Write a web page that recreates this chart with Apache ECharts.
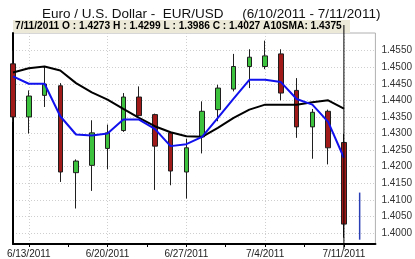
<!DOCTYPE html>
<html><head><meta charset="utf-8">
<script src="https://cdn.jsdelivr.net/npm/echarts@6/dist/echarts.min.js"></script>
<style>html,body{margin:0;padding:0;background:#fff}#c{width:415px;height:259px}</style>
</head><body><div id="c"></div>
<script>
const categories = ['6/10/2011','6/13/2011','6/14/2011','6/15/2011','6/16/2011','6/17/2011',
  '6/20/2011','6/21/2011','6/22/2011','6/23/2011','6/24/2011',
  '6/27/2011','6/28/2011','6/29/2011','6/30/2011','7/1/2011',
  '7/4/2011','7/5/2011','7/6/2011','7/7/2011','7/8/2011',
  '7/11/2011','7/12/2011','7/13/2011'];
const openV  = [1.4510,1.4350,1.4415,1.4444,1.4182,1.4204,1.4255,1.4309,1.4410,1.4357,1.4302,1.4184,1.4290,1.4372,1.4434,1.4502,1.4502,1.4540,1.4430,1.4320,1.4367,1.4273];
const closeV = [1.4350,1.4413,1.4449,1.4184,1.4217,1.4302,1.4302,1.4410,1.4354,1.4262,1.4187,1.4257,1.4367,1.4437,1.4502,1.4530,1.4534,1.4422,1.4320,1.4364,1.4257,1.4027];
const lowV   = [1.4335,1.4300,1.4380,1.4154,1.4074,1.4127,1.4192,1.4305,1.4352,1.4130,1.4144,1.4104,1.4240,1.4337,1.4427,1.4437,1.4494,1.4400,1.4287,1.4224,1.4207,1.3986];
const highV  = [1.4550,1.4430,1.4502,1.4452,1.4222,1.4340,1.4327,1.4422,1.4442,1.4360,1.4305,1.4284,1.4397,1.4447,1.4540,1.4554,1.4580,1.4554,1.4467,1.4374,1.4372,1.4299];
const fastLine = [1.4472,1.4450,1.4450,1.4352,1.4297,1.4294,1.4300,1.4342,1.4342,1.4314,1.4262,1.4268,1.4290,1.4347,1.4405,1.4462,1.4462,1.4455,1.4404,1.4387,1.4335,1.4227];
const sma10 = [1.4484,1.4497,1.4502,1.4490,1.4452,1.4424,1.4402,1.4374,1.4347,1.4322,1.4304,1.4292,1.4290,1.4317,1.4347,1.4372,1.4387,1.4387,1.4387,1.4394,1.4400,1.4375];
const projection = [[22, 1.3980, 1.4122]];
const cursorIndex = 21;
const yTicks = [1.4000,1.4050,1.4100,1.4150,1.4200,1.4250,1.4300,1.4350,1.4400,1.4450,1.4500,1.4550];
const xLabelIdx = [1,6,11,16,21];
const xMinorTicks = [1,3.5,6,8.5,11,13.5,16,18.5,21];
const yMin = 1.3967, yMax = 1.4603;

const FONT = 'Liberation Sans, Arial, sans-serif';
const ohlc = openV.map((o,i)=>[o, closeV[i], lowV[i], highV[i]]);
const ci = cursorIndex;
const infoText = categories[ci] + ' O : ' + openV[ci].toFixed(4) + ' H : ' + highV[ci].toFixed(4) +
  ' L : ' + lowV[ci].toFixed(4) + ' C : ' + closeV[ci].toFixed(4) + ' A10SMA: ' + sma10[ci].toFixed(4);

const chart = echarts.init(document.getElementById('c'), null, {renderer:'canvas'});
chart.setOption({
  animation:false,
  backgroundColor:'#fff',
  title:{text:'Euro / U.S. Dollar -  EUR/USD     (6/10/2011 - 7/11/2011)', left:37, top:2,
    textStyle:{fontFamily:FONT, fontSize:13.5, fontWeight:'normal', color:'#111'}},
  graphic:[
    {type:'rect', left:13, top:20, shape:{width:337, height:13}, style:{fill:'#ECE9D8'}, z:0},
    {type:'text', left:15, top:21.5, style:{text:infoText, font:'bold 10.2px '+FONT, fill:'#000'}, z:1}
  ],
  grid:{left:13, right:34, top:33, bottom:14, show:true, borderColor:'#b0b0b0', borderWidth:1},
  xAxis:[{
    type:'category', data:categories, boundaryGap:false,
    axisLine:{lineStyle:{color:'#000', width:2}},
    axisTick:{show:false},
    axisLabel:{interval:(i)=>xLabelIdx.indexOf(i)>=0, fontFamily:FONT, fontSize:10, color:'#222', margin:5},
    splitLine:{show:true, interval:(i)=>xLabelIdx.indexOf(i)>=0, lineStyle:{color:'#cfcfcf', type:[1,2]}}
  },{
    type:'value', min:0, max:categories.length-1, position:'bottom',
    axisLine:{show:false}, axisLabel:{show:false}, splitLine:{show:false},
    axisTick:{show:true, customValues:xMinorTicks, length:3, lineStyle:{color:'#000'}}
  }],
  yAxis:{
    type:'value', position:'right', min:yMin, max:yMax, scale:true,
    axisLine:{show:true, lineStyle:{color:'#000', width:2}},
    axisTick:{show:false, customValues:yTicks},
    axisLabel:{customValues:yTicks, formatter:(v)=>v.toFixed(4), fontFamily:FONT, fontSize:10, color:'#333', margin:6},
    splitLine:{show:true, lineStyle:{color:'#cfcfcf', type:[1,2]}}
  },
  series:[
    {type:'candlestick', data:ohlc, barWidth:5,
     itemStyle:{color:'#3DC23D', color0:'#A01A1A', borderColor:'#1f1f1f', borderColor0:'#1f1f1f', borderWidth:1}},
    {type:'line', data:sma10, symbol:'none', lineStyle:{color:'#000', width:2}, z:3},
    {type:'line', data:fastLine, symbol:'none', lineStyle:{color:'#1111EE', width:2}, z:4},
    {type:'custom', data:projection, z:5,
     renderItem:(params, api)=>{
       const a = api.coord([api.value(0), api.value(1)]);
       const b = api.coord([api.value(0), api.value(2)]);
       return {type:'line', shape:{x1:a[0], y1:a[1], x2:b[0], y2:b[1]}, style:{stroke:'#2A3FB5', lineWidth:1.5}};
     }},
    {type:'custom', data:[[cursorIndex]], z:6, clip:false,
     renderItem:(params, api)=>{
       const p = api.coord([api.value(0), yMin]);
       const cs = params.coordSys;
       return {type:'line', shape:{x1:p[0], y1:cs.y-8, x2:p[0], y2:cs.y+cs.height+5}, style:{stroke:'#000', lineWidth:1}};
     }}
  ]
});
</script></body></html>
